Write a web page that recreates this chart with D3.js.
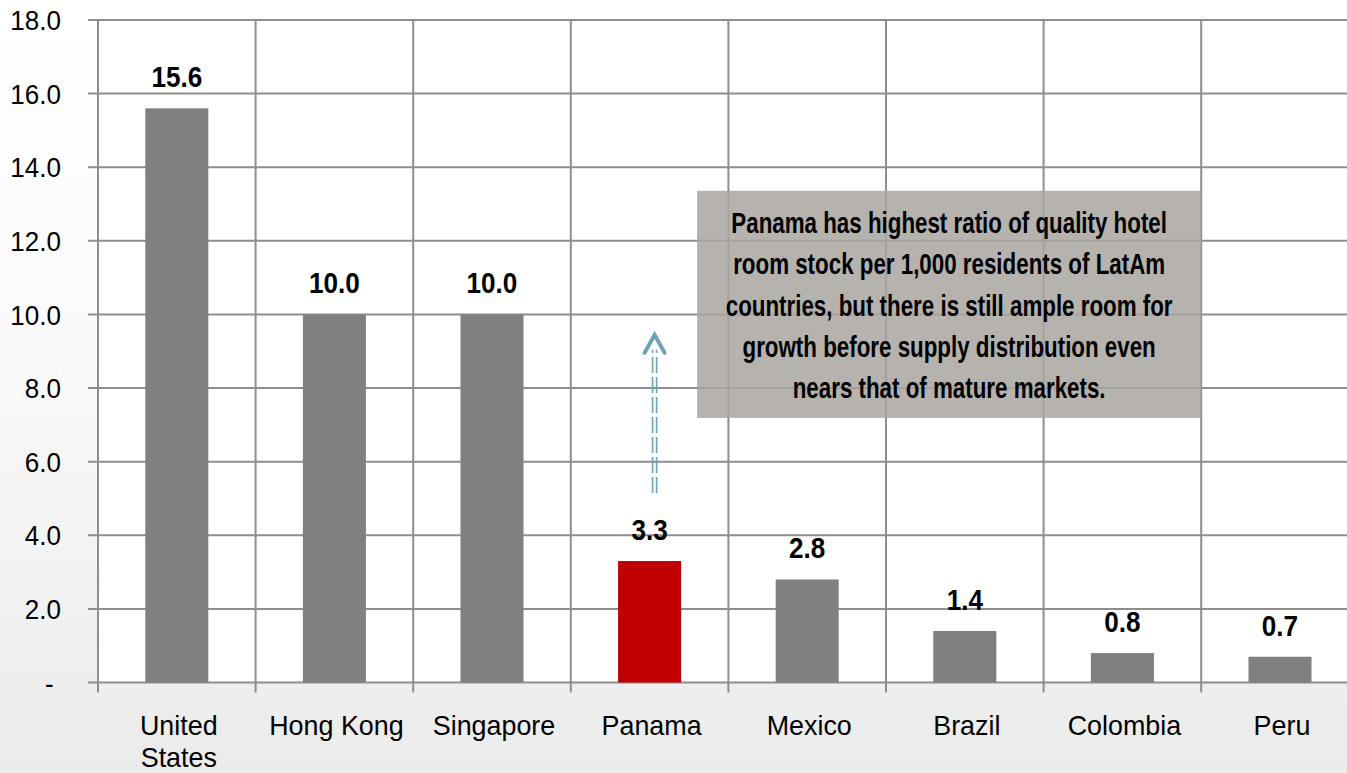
<!DOCTYPE html>
<html>
<head>
<meta charset="utf-8">
<script src="https://cdn.jsdelivr.net/npm/d3@7/dist/d3.min.js"></script>
<style>
html,body{margin:0;padding:0;background:#fff;}
svg{display:block;}
text{font-family:"Liberation Sans",Arial,Helvetica,sans-serif;fill:#000;}
</style>
</head>
<body>
<svg id="chart" width="1347" height="773"></svg>
<script>
const categories = ["United States","Hong Kong","Singapore","Panama","Mexico","Brazil","Colombia","Peru"];
const values = [15.6, 10.0, 10.0, 3.3, 2.8, 1.4, 0.8, 0.7];
const highlight = ["Panama"];
const yTicks = [0,2,4,6,8,10,12,14,16,18];
const yTickLabels = ["-\u00a0","2.0","4.0","6.0","8.0","10.0","12.0","14.0","16.0","18.0"];
const annotationLines = [
  "Panama has highest ratio of quality hotel",
  "room stock per 1,000 residents of LatAm",
  "countries, but there is still ample room for",
  "growth before supply distribution even",
  "nears that of mature markets."
];
const arrowFrom = 5.15, arrowTo = 9.5;

const W = 1347, H = 773;
const svg = d3.select("#chart");

const left = 98, bandW = 157.6;
const x = d3.scaleBand().domain(categories).range([left, left + bandW*categories.length]).padding(0);
const y = d3.scaleLinear().domain([0,18]).range([682.5, 20]);
const bw = x.bandwidth();

// background gradient
const defs = svg.append("defs");
const g = defs.append("linearGradient").attr("id","bg").attr("x1",0).attr("y1",0).attr("x2",0).attr("y2",1);
g.append("stop").attr("offset","0%").attr("stop-color","#ffffff");
g.append("stop").attr("offset","45%").attr("stop-color","#fafafa");
g.append("stop").attr("offset","100%").attr("stop-color","#ebebeb");
svg.append("rect").attr("width",W).attr("height",H).attr("fill","url(#bg)");
svg.append("rect").attr("x",left).attr("y",y(18)).attr("width",W-left).attr("height",y(0)-y(18)).attr("fill","#ffffff");

const gridColor = "#8e8e8e";
svg.append("g").selectAll("line").data(yTicks).join("line")
  .attr("x1", left-10).attr("x2", W)
  .attr("y1", d=>y(d)).attr("y2", d=>y(d))
  .attr("stroke", gridColor).attr("stroke-width", 2);
const bounds = categories.map(c=>x(c)).concat([x(categories[categories.length-1])+bw]);
svg.append("g").selectAll("line").data(bounds).join("line")
  .attr("x1", d=>d).attr("x2", d=>d)
  .attr("y1", y(18)).attr("y2", y(0)+10)
  .attr("stroke", gridColor).attr("stroke-width", 2);

// bars
svg.append("g").selectAll("rect").data(categories).join("rect")
  .attr("x", c=>x(c)+bw*0.3)
  .attr("width", bw*0.4)
  .attr("y", (c,i)=>y(values[i]))
  .attr("height", (c,i)=>y(0)-y(values[i]))
  .attr("fill", c=>highlight.includes(c) ? "#c00000" : "#808080");

// annotation box
const boxX0 = x("Panama")+bw*0.3+79, boxX1 = x("Colombia")+bw;
svg.append("rect").attr("x", boxX0).attr("y", y(13.36)).attr("width", boxX1-boxX0).attr("height", y(7.19)-y(13.36))
  .attr("fill","#a9a49f").attr("fill-opacity",0.85);
const cx = (boxX0+boxX1)/2;
svg.append("g").selectAll("text").data(annotationLines).join("text")
  .attr("transform",(d,i)=>`translate(${cx},${233+i*41.3}) scale(0.745,1)`)
  .attr("text-anchor","middle").attr("font-size",30).attr("font-weight","bold")
  .text(d=>d);

// y labels
svg.append("g").selectAll("text").data(yTicks).join("text")
  .attr("transform", d=>`translate(61,${y(d)}) scale(0.93,1)`)
  .attr("dy","0.36em").attr("text-anchor","end").attr("font-size",28)
  .text((d,i)=>yTickLabels[i]);

// category labels
const cat = svg.append("g").selectAll("text").data(categories).join("text")
  .attr("transform", c=>`translate(${x(c)+bw/2+2},735) scale(0.96,1)`)
  .attr("text-anchor","middle").attr("font-size",28);
cat.each(function(c){
  const words = c === "United States" ? ["United","States"] : [c];
  d3.select(this).selectAll("tspan").data(words).join("tspan")
    .attr("x",0).attr("dy",(w,i)=>i===0?0:32).text(w=>w);
});

// value labels
svg.append("g").selectAll("text").data(categories).join("text")
  .attr("transform",(c,i)=>`translate(${x(c)+bw/2},${y(values[i])-21}) scale(0.9,1)`)
  .attr("text-anchor","middle").attr("font-size",29).attr("font-weight","bold")
  .text((c,i)=>values[i].toFixed(1));

// arrow
const ax = x("Panama")+bw/2+5;
const arrowColor = "#6fa2b4";
[-2,2].forEach(off=>{
  svg.append("line").attr("x1",ax+off).attr("x2",ax+off)
    .attr("y1",y(arrowFrom)).attr("y2",y(arrowTo)+17)
    .attr("stroke",arrowColor).attr("stroke-width",1.6).attr("stroke-dasharray","16,4");
});
svg.append("path")
  .attr("d", `M${ax-10},${y(arrowTo)+20} L${ax},${y(arrowTo)+2} L${ax+10},${y(arrowTo)+20}`)
  .attr("fill","none").attr("stroke",arrowColor).attr("stroke-width",4).attr("stroke-linecap","round").attr("stroke-linejoin","miter");
</script>
</body>
</html>
